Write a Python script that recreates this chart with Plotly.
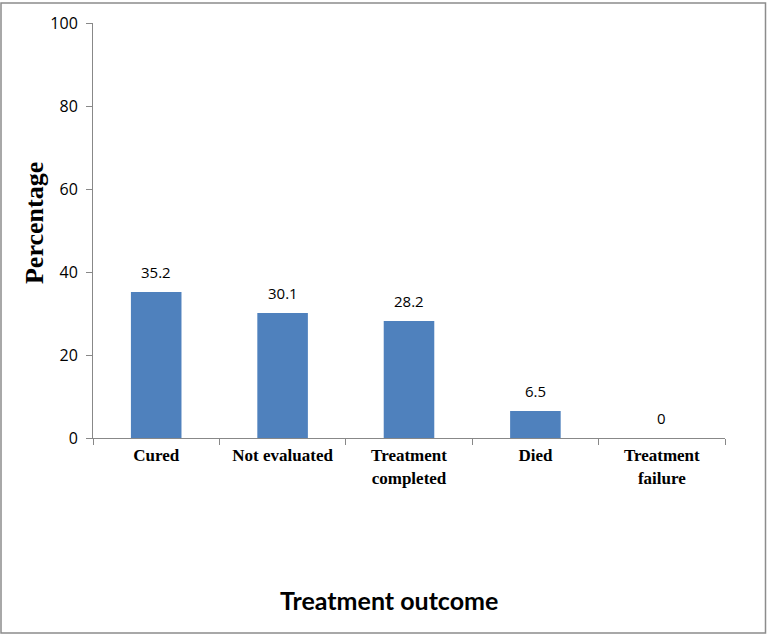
import plotly.graph_objects as go

categories = ["Cured", "Not evaluated", "Treatment<br>completed", "Died", "Treatment<br>failure"]
values = [35.2, 30.1, 28.2, 6.5, 0]
labels = ["35.2", "30.1", "28.2", "6.5", "0"]
y_ticks = [0, 20, 40, 60, 80, 100]

W, H = 767, 636
L, R, T, B = 93, 42, 21, 198
pw, ph = W - L - R, H - T - B

fig = go.Figure(go.Bar(
    x=categories, y=values,
    marker=dict(color="#4F81BD", line=dict(width=0)),
    cliponaxis=False,
))

annotations = [dict(
    x=c, y=v, text=t, xref="x", yref="y", showarrow=False,
    xanchor="center", yanchor="bottom", yshift=8,
    font=dict(family="Open Sans, Carlito, sans-serif", size=15, color="#000"),
) for c, v, t in zip(categories, values, labels)]

annotations.append(dict(
    text="<b>Treatment outcome</b>", xref="paper", yref="paper",
    x=(389 - L) / pw, y=-(601 - T - ph) / ph, xanchor="center", yanchor="middle",
    showarrow=False,
    font=dict(family="Lato, Open Sans, sans-serif", size=25, color="#000"),
))
annotations.append(dict(
    text="<b>Percentage</b>", xref="paper", yref="paper", textangle=-90,
    x=(34 - L) / pw, y=(T + ph - 222) / ph, xanchor="center", yanchor="middle",
    showarrow=False,
    font=dict(family="Liberation Serif, Times New Roman, serif", size=26, color="#000"),
))

fig.update_layout(
    width=W, height=H,
    margin=dict(l=L, r=R, t=T, b=B),
    plot_bgcolor="white", paper_bgcolor="white",
    bargap=0.6, showlegend=False,
    xaxis=dict(
        showline=True, linecolor="#888888", linewidth=1,
        ticks="outside", ticklen=6, tickcolor="#888888",
        tickson="boundaries", ticklabelstandoff=2,
        tickfont=dict(family="Liberation Serif, Times New Roman, serif", size=17, color="#000", weight="bold"),
        showgrid=False,
    ),
    yaxis=dict(
        range=[0, 100], tickvals=y_ticks,
        showline=True, linecolor="#888888", linewidth=1,
        ticks="outside", ticklen=6, tickcolor="#888888",
        ticklabelstandoff=5,
        tickfont=dict(family="Open Sans, Carlito, sans-serif", size=16, color="#000"),
        showgrid=False, zeroline=False,
    ),
    shapes=[dict(
        type="rect", xref="paper", yref="paper",
        x0=(1 - L) / pw, x1=(W - 1.5 - L) / pw,
        y0=-(B - 2) / ph, y1=1 + (T - 1) / ph,
        line=dict(color="#8c8c8c", width=1.5), fillcolor="rgba(0,0,0,0)", layer="below",
    )],
    annotations=annotations,
)

fig.write_html("out.html", config={"displayModeBar": False},
               post_script="document.body.style.margin='0';document.body.style.overflow='hidden';")
